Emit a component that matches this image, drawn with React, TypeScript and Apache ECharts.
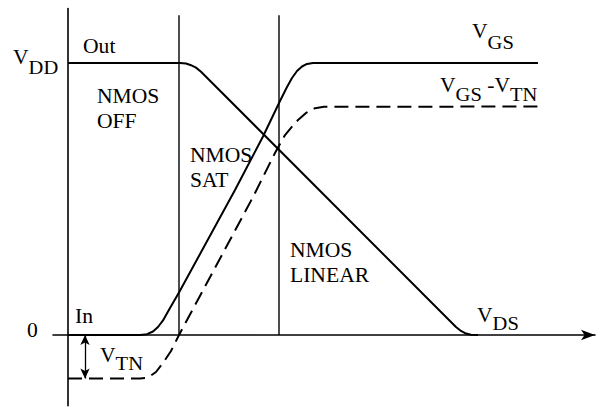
import { useEffect, useRef } from "react";
import * as echarts from "echarts";

// Supply and threshold levels (V)
const VDD = 5;
const VTN = 0.8;

// Output node (V_DS) waveform: time (ns) / voltage (V)
const tOut = [0, 11.2, 11.8, 12.3, 12.8, 13.3, 38.8, 39.3, 39.8, 40.3, 41.0];
const vOut = [5, 5, 4.99, 4.96, 4.915, 4.84, 0.147, 0.074, 0.026, 0.006, 0];

// Input node (V_GS) waveform
const tIn = [0, 7.2, 7.9, 8.5, 9.0, 9.5, 10.2, 11.1, 16.7, 19.5, 21.2, 21.9, 22.4, 22.9, 23.4, 23.9, 24.5, 47.0];
const vIn = [0, 0, 0.015, 0.064, 0.147, 0.267, 0.496, 0.781, 2.665, 3.649, 4.301, 4.559, 4.724, 4.853, 4.936, 4.982, 5, 5];

// Gate overdrive (V_GS - V_TN) waveform
const tOv = [0, 7.2, 7.8, 8.3, 8.8, 9.5, 10.3, 11.1, 18.5, 19.5, 20.7, 21.7, 22.5, 23.0, 23.8, 24.7, 25.6, 47.0];
const vOv = [-0.8, -0.8, -0.79, -0.745, -0.68, -0.515, -0.294, 0, 2.537, 2.904, 3.346, 3.676, 3.851, 3.952, 4.081, 4.17, 4.195, 4.2];

// Region boundaries (ns) and their top (V)
const regionEdges = [11.1, 21.1];
const regionTop = 5.88;

// Where the V_TN dimension arrow sits (ns)
const vtnArrowT = 1.7;

const zip = (xs: number[], ys: number[]) => xs.map((x, i) => [x, ys[i]]);

const serif = "'Liberation Serif', 'Times New Roman', serif";
const INK = "#000";

const rich = (pad: number) => ({
  m: { fontFamily: serif, fontSize: 20, lineHeight: 20, verticalAlign: "top", fill: INK },
  s: { fontFamily: serif, fontSize: 19, lineHeight: 20, verticalAlign: "top", fill: INK, padding: [pad, 0, 0, 0] },
});

const richLabel = (x: number, y: number, text: string, pad: number) => ({
  type: "text",
  x,
  y,
  scaleX: 1.08,
  silent: true,
  style: { text, rich: rich(pad), verticalAlign: "top", align: "left", fill: INK },
});

const plainLabel = (x: number, y: number, text: string) => ({
  type: "text",
  x,
  y,
  scaleX: 1.08,
  silent: true,
  style: {
    text,
    fontFamily: serif,
    fontSize: 20,
    lineHeight: 25,
    verticalAlign: "top",
    align: "left",
    fill: INK,
  },
});

export default function App() {
  const ref = useRef<HTMLDivElement>(null);

  useEffect(() => {
    if (!ref.current) return;
    const chart = echarts.init(ref.current, undefined, { renderer: "svg" });

    const curve = { color: INK, width: 2 };

    const option: any = {
      animation: false,
      backgroundColor: "#fff",
      grid: { left: 53, right: 8, top: 8.6, bottom: 1.28 },
      xAxis: {
        type: "value",
        min: -1.5,
        max: 52.7,
        axisLine: {
          show: true,
          onZero: true,
          symbol: ["none", "arrow"],
          symbolSize: [8, 14],
          lineStyle: { color: INK, width: 1.6 },
        },
        axisTick: { show: false },
        axisLabel: { show: false },
        splitLine: { show: false },
      },
      yAxis: {
        type: "value",
        min: -1.3,
        max: 6,
        axisLine: { show: true, onZero: true, lineStyle: { color: INK, width: 1.6 } },
        axisTick: { show: false },
        axisLabel: { show: false },
        splitLine: { show: false },
      },
      series: [
        {
          name: "Out",
          type: "line",
          data: zip(tOut, vOut),
          symbol: "none",
          lineStyle: curve,
          z: 3,
        },
        {
          name: "In",
          type: "line",
          data: zip(tIn, vIn),
          symbol: "none",
          lineStyle: curve,
          z: 3,
        },
        {
          name: "VGS-VTN",
          type: "line",
          data: zip(tOv, vOv),
          symbol: "none",
          lineStyle: { color: INK, width: 2, type: [14, 7] },
          z: 3,
        },
        ...regionEdges.map((t, i) => ({
          name: `edge${i}`,
          type: "line",
          data: [
            [t, 0],
            [t, regionTop],
          ],
          symbol: "none",
          lineStyle: { color: INK, width: 1.4 },
          z: 2,
          markLine:
            i === 0
              ? {
                  silent: true,
                  symbol: ["arrow", "arrow"],
                  symbolSize: [7, 10],
                  label: { show: false },
                  lineStyle: { color: INK, width: 1.3, type: "solid" },
                  data: [[{ coord: [vtnArrowT, 0] }, { coord: [vtnArrowT, -VTN] }]],
                }
              : undefined,
        })),
      ],
      graphic: [
        richLabel(13, 47.25, "{m|V}{s|DD}", 11),
        plainLabel(83, 33.75, "Out"),
        plainLabel(97, 83.75, "NMOS\nOFF"),
        plainLabel(190, 142.75, "NMOS\nSAT"),
        plainLabel(290, 237.75, "NMOS\nLINEAR"),
        richLabel(472, 21.25, "{m|V}{s|GS}", 12),
        richLabel(440, 75.25, "{m|V}{s|GS}{m| -V}{s|TN}", 10),
        richLabel(477, 305.25, "{m|V}{s|DS}", 9),
        richLabel(100, 345.25, "{m|V}{s|TN}", 9),
        plainLabel(75, 303.75, "In"),
        plainLabel(27, 317.75, "0"),
      ],
    };

    chart.setOption(option);
    return () => chart.dispose();
  }, []);

  return (
    <div
      ref={ref}
      style={{ position: "fixed", left: 0, top: 0, width: 603, height: 407, background: "#fff" }}
    />
  );
}
